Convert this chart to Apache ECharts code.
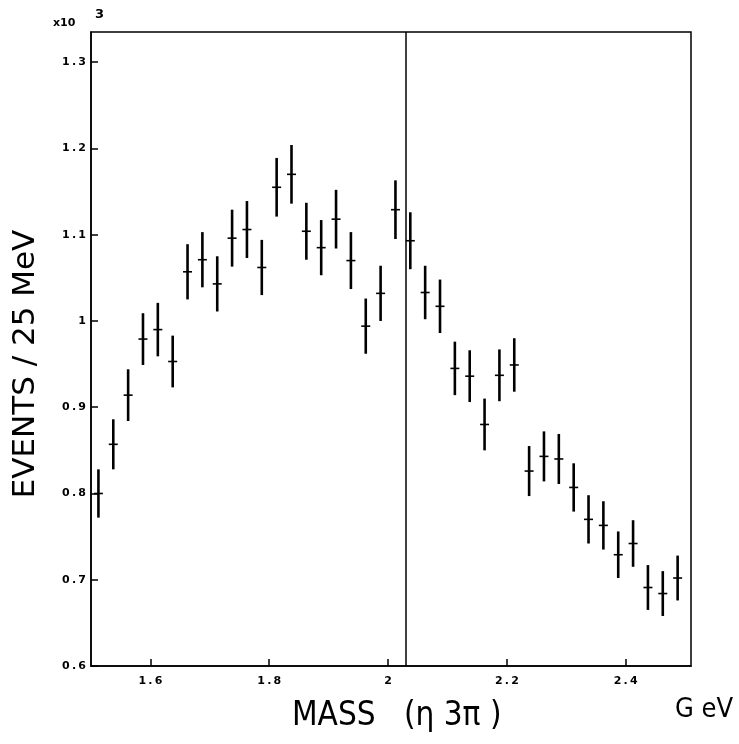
<!DOCTYPE html>
<html>
<head>
<meta charset="utf-8">
<script src="https://cdn.jsdelivr.net/npm/echarts@6/dist/echarts.min.js"></script>
<style>html,body{margin:0;padding:0;background:#fff}#c{width:739px;height:744px}</style>
</head>
<body>
<div id="c"></div>
<script>
// Bin centres (GeV), 25 MeV bins
const mass = [1.5125,1.5375,1.5625,1.5875,1.6125,1.6375,1.6625,1.6875,1.7125,1.7375,
              1.7625,1.7875,1.8125,1.8375,1.8625,1.8875,1.9125,1.9375,1.9625,1.9875,
              2.0125,2.0375,2.0625,2.0875,2.1125,2.1375,2.1625,2.1875,2.2125,2.2375,
              2.2625,2.2875,2.3125,2.3375,2.3625,2.3875,2.4125,2.4375,2.4625,2.4875];
// Events / 25 MeV (x10^3)
const events = [0.800,0.857,0.914,0.979,0.990,0.953,1.057,1.071,1.043,1.096,
                1.106,1.062,1.155,1.170,1.104,1.085,1.118,1.070,0.994,1.032,
                1.129,1.093,1.033,1.017,0.945,0.936,0.880,0.937,0.949,0.826,
                0.843,0.840,0.807,0.770,0.763,0.729,0.742,0.691,0.684,0.702];
// Half-length of error bars (x10^3)
const errors = [0.028,0.029,0.030,0.030,0.031,0.030,0.032,0.032,0.032,0.033,
                0.033,0.032,0.034,0.034,0.033,0.032,0.034,0.033,0.032,0.032,
                0.034,0.033,0.031,0.031,0.031,0.030,0.030,0.030,0.031,0.029,
                0.029,0.029,0.028,0.028,0.028,0.027,0.027,0.026,0.026,0.026];
const xTicks = [1.6,1.8,2.0,2.2,2.4];
const yTicks = [0.6,0.7,0.8,0.9,1.0,1.1,1.2,1.3];
const cutMass = 2.028;

const data = mass.map((m,i)=>[m, events[i], events[i]-errors[i], events[i]+errors[i]]);
const tickFont = {color:'#000', fontFamily:'DejaVu Sans', fontWeight:'bold', fontSize:11};
const fmt = v => String(+v.toFixed(1)).split('').join('\u2009');

const chart = echarts.init(document.getElementById('c'), null, {renderer:'canvas'});
chart.setOption({
  animation:false,
  backgroundColor:'#fff',
  grid:{left:91, right:48, top:32, bottom:78, show:true, borderColor:'#000', borderWidth:1.5, backgroundColor:'transparent'},
  xAxis:{
    type:'value', min:1.5, max:2.51,
    axisLine:{show:true, lineStyle:{color:'#000', width:1.5}},
    axisTick:{show:true, inside:true, length:7, lineStyle:{color:'#000', width:1.5}, customValues:xTicks},
    axisLabel:{...tickFont, margin:10, customValues:xTicks, formatter:fmt},
    splitLine:{show:false}
  },
  yAxis:{
    type:'value', min:0.6, max:1.335,
    axisLine:{show:true, lineStyle:{color:'#000', width:1.5}},
    axisTick:{show:true, inside:true, length:7, lineStyle:{color:'#000', width:1.5}, customValues:yTicks},
    axisLabel:{...tickFont, margin:5, customValues:yTicks, formatter:fmt},
    splitLine:{show:false}
  },
  graphic:[
    {type:'text', x:26, y:364, rotation:Math.PI/2,
      style:{text:'EVENTS / 25 MeV', fill:'#000', align:'center', verticalAlign:'middle',
             font:'31px "DejaVu Sans"'}},
    {type:'text', x:292, y:716,
      style:{text:'MASS   (\u03B7 3\u03C0 )', fill:'#000', align:'left', verticalAlign:'middle',
             font:'33px "DejaVu Sans Condensed", "DejaVu Sans"'}},
    {type:'text', x:675, y:710,
      style:{text:'G eV', fill:'#000', align:'left', verticalAlign:'middle',
             font:'27px "DejaVu Sans Condensed", "DejaVu Sans"'}},
    {type:'text', x:53, y:23, style:{text:'x10', fill:'#000', align:'left', verticalAlign:'middle', font:'bold 11px "DejaVu Sans"'}},
    {type:'text', x:95, y:15, style:{text:'3', fill:'#000', align:'left', verticalAlign:'middle', font:'bold 13px "DejaVu Sans"'}}
  ],
  series:[{
    type:'custom',
    data:data,
    encode:{x:0, y:[1,2,3]},
    renderItem:function(params, api){
      const x = api.value(0);
      const c = api.coord([x, api.value(1)]);
      const lo = api.coord([x, api.value(2)]);
      const hi = api.coord([x, api.value(3)]);
      return {type:'group', children:[
        {type:'line', shape:{x1:c[0], y1:lo[1], x2:c[0], y2:hi[1]}, style:{stroke:'#000', lineWidth:2.6}},
        {type:'line', shape:{x1:c[0]-4.5, y1:c[1], x2:c[0]+4.5, y2:c[1]}, style:{stroke:'#000', lineWidth:1.6}}
      ]};
    },
    markLine:{
      silent:true, symbol:['none','none'], label:{show:false},
      lineStyle:{color:'#000', width:1.5, type:'solid'},
      data:[{xAxis:cutMass}]
    }
  }]
});
</script>
</body>
</html>
